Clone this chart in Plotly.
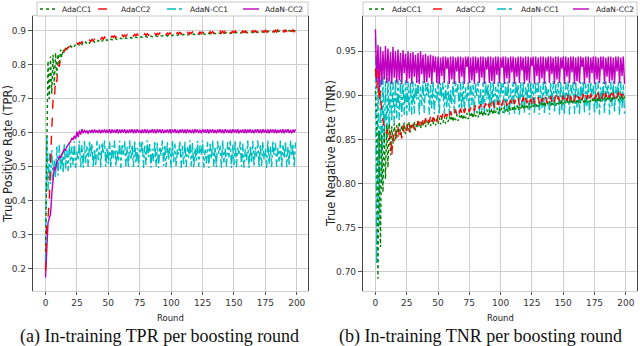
import plotly.graph_objects as go

# boosting rounds
rounds = list(range(200))
series_names = ["AdaCC1", "AdaCC2", "AdaN-CC1", "AdaN-CC2"]

# ---- in-training TPR ----
tpr_adacc1 = [
    0.250, 0.580, 0.812, 0.700, 0.825, 0.715, 0.830, 0.740, 0.836, 0.770,
    0.832, 0.800, 0.845, 0.822, 0.846, 0.835, 0.852, 0.845, 0.853, 0.850,
    0.856, 0.852, 0.858, 0.855, 0.861, 0.857, 0.862, 0.859, 0.864, 0.860,
    0.866, 0.862, 0.867, 0.863, 0.868, 0.864, 0.869, 0.866, 0.870, 0.867,
    0.871, 0.868, 0.872, 0.869, 0.873, 0.870, 0.874, 0.871, 0.875, 0.872,
    0.876, 0.873, 0.876, 0.874, 0.877, 0.874, 0.878, 0.875, 0.878, 0.876,
    0.879, 0.877, 0.879, 0.877, 0.880, 0.878, 0.880, 0.878, 0.881, 0.879,
    0.881, 0.879, 0.882, 0.880, 0.882, 0.880, 0.883, 0.881, 0.883, 0.881,
    0.884, 0.882, 0.884, 0.882, 0.885, 0.883, 0.885, 0.883, 0.886, 0.884,
    0.886, 0.884, 0.886, 0.885, 0.887, 0.885, 0.887, 0.885, 0.888, 0.886,
    0.888, 0.886, 0.888, 0.887, 0.889, 0.887, 0.889, 0.887, 0.889, 0.888,
    0.890, 0.888, 0.890, 0.888, 0.890, 0.889, 0.891, 0.889, 0.891, 0.889,
    0.891, 0.889, 0.892, 0.890, 0.892, 0.890, 0.892, 0.890, 0.893, 0.891,
    0.893, 0.891, 0.893, 0.891, 0.893, 0.892, 0.894, 0.892, 0.894, 0.892,
    0.894, 0.892, 0.894, 0.893, 0.895, 0.893, 0.895, 0.893, 0.895, 0.893,
    0.895, 0.894, 0.896, 0.894, 0.896, 0.894, 0.896, 0.894, 0.896, 0.895,
    0.897, 0.895, 0.897, 0.895, 0.897, 0.895, 0.897, 0.896, 0.898, 0.896,
    0.898, 0.896, 0.898, 0.896, 0.898, 0.897, 0.899, 0.897, 0.899, 0.897,
    0.899, 0.897, 0.899, 0.898, 0.900, 0.898, 0.900, 0.898, 0.900, 0.898,
    0.900, 0.899, 0.901, 0.899, 0.901, 0.899, 0.901, 0.899, 0.901, 0.900,
]
tpr_adacc2 = [
    0.195, 0.320, 0.350, 0.400, 0.520, 0.610, 0.700, 0.695, 0.760, 0.750,
    0.800, 0.795, 0.822, 0.830, 0.838, 0.842, 0.846, 0.850, 0.851, 0.854,
    0.856, 0.859, 0.857, 0.862, 0.860, 0.864, 0.861, 0.866, 0.863, 0.868,
    0.865, 0.869, 0.866, 0.871, 0.868, 0.873, 0.869, 0.875, 0.871, 0.876,
    0.873, 0.878, 0.874, 0.879, 0.875, 0.881, 0.876, 0.882, 0.877, 0.883,
    0.879, 0.884, 0.880, 0.885, 0.881, 0.886, 0.881, 0.887, 0.882, 0.887,
    0.883, 0.888, 0.883, 0.888, 0.884, 0.889, 0.884, 0.889, 0.885, 0.890,
    0.885, 0.890, 0.886, 0.891, 0.886, 0.891, 0.886, 0.891, 0.887, 0.892,
    0.887, 0.892, 0.887, 0.892, 0.888, 0.893, 0.888, 0.893, 0.888, 0.893,
    0.889, 0.894, 0.889, 0.894, 0.889, 0.894, 0.889, 0.894, 0.890, 0.895,
    0.890, 0.895, 0.890, 0.895, 0.890, 0.895, 0.891, 0.896, 0.891, 0.896,
    0.891, 0.896, 0.891, 0.896, 0.891, 0.896, 0.892, 0.897, 0.892, 0.897,
    0.892, 0.897, 0.892, 0.897, 0.892, 0.897, 0.893, 0.898, 0.893, 0.898,
    0.893, 0.898, 0.893, 0.898, 0.893, 0.898, 0.893, 0.898, 0.894, 0.899,
    0.894, 0.899, 0.894, 0.899, 0.894, 0.899, 0.894, 0.899, 0.894, 0.899,
    0.895, 0.900, 0.895, 0.900, 0.895, 0.900, 0.895, 0.900, 0.895, 0.900,
    0.895, 0.900, 0.895, 0.901, 0.896, 0.901, 0.896, 0.901, 0.896, 0.901,
    0.896, 0.901, 0.896, 0.901, 0.896, 0.902, 0.897, 0.902, 0.897, 0.902,
    0.897, 0.902, 0.897, 0.902, 0.897, 0.903, 0.897, 0.903, 0.897, 0.903,
    0.896, 0.904, 0.897, 0.904, 0.896, 0.905, 0.897, 0.904, 0.896, 0.905,
]
tpr_adan_cc1 = [
    0.220, 0.590, 0.430, 0.540, 0.450, 0.550, 0.460, 0.520, 0.470, 0.560,
    0.475, 0.565, 0.490, 0.540, 0.482, 0.570, 0.495, 0.550, 0.488, 0.572,
    0.498, 0.560, 0.505, 0.575, 0.497, 0.545, 0.520, 0.577, 0.499, 0.565,
    0.498, 0.576, 0.512, 0.561, 0.500, 0.578, 0.531, 0.569, 0.499, 0.554,
    0.503, 0.577, 0.520, 0.566, 0.497, 0.572, 0.538, 0.578, 0.501, 0.558,
    0.509, 0.575, 0.498, 0.563, 0.526, 0.578, 0.500, 0.551, 0.515, 0.577,
    0.497, 0.568, 0.535, 0.576, 0.502, 0.559, 0.498, 0.578, 0.524, 0.565,
    0.500, 0.577, 0.511, 0.556, 0.499, 0.574, 0.540, 0.578, 0.497, 0.562,
    0.506, 0.578, 0.529, 0.567, 0.498, 0.553, 0.517, 0.577, 0.501, 0.571,
    0.497, 0.560, 0.533, 0.578, 0.503, 0.566, 0.499, 0.575, 0.521, 0.557,
    0.498, 0.578, 0.514, 0.569, 0.500, 0.552, 0.537, 0.577, 0.497, 0.563,
    0.508, 0.576, 0.499, 0.558, 0.527, 0.578, 0.502, 0.570, 0.497, 0.555,
    0.518, 0.577, 0.500, 0.564, 0.536, 0.578, 0.498, 0.551, 0.510, 0.574,
    0.497, 0.568, 0.523, 0.578, 0.501, 0.559, 0.499, 0.576, 0.539, 0.562,
    0.498, 0.578, 0.513, 0.554, 0.500, 0.573, 0.528, 0.577, 0.497, 0.566,
    0.505, 0.578, 0.499, 0.557, 0.534, 0.575, 0.501, 0.569, 0.498, 0.552,
    0.519, 0.578, 0.497, 0.563, 0.511, 0.576, 0.500, 0.558, 0.530, 0.578,
    0.498, 0.567, 0.503, 0.574, 0.522, 0.553, 0.497, 0.578, 0.508, 0.561,
    0.499, 0.577, 0.535, 0.570, 0.500, 0.556, 0.516, 0.578, 0.497, 0.564,
    0.525, 0.576, 0.499, 0.559, 0.502, 0.578, 0.531, 0.568, 0.498, 0.572,
]
tpr_adan_cc2 = [
    0.175, 0.250, 0.335, 0.350, 0.360, 0.420, 0.470, 0.500, 0.490, 0.515,
    0.520, 0.530, 0.528, 0.540, 0.545, 0.552, 0.550, 0.560, 0.565, 0.570,
    0.575, 0.585, 0.580, 0.592, 0.583, 0.604, 0.588, 0.607, 0.595, 0.611,
    0.599, 0.609, 0.600, 0.607, 0.598, 0.608, 0.601, 0.609, 0.600, 0.610,
    0.601, 0.608, 0.600, 0.610, 0.599, 0.609, 0.601, 0.610, 0.600, 0.609,
    0.600, 0.611, 0.599, 0.610, 0.601, 0.609, 0.600, 0.611, 0.599, 0.610,
    0.600, 0.610, 0.601, 0.611, 0.599, 0.609, 0.600, 0.610, 0.601, 0.611,
    0.599, 0.610, 0.600, 0.611, 0.601, 0.609, 0.599, 0.610, 0.600, 0.611,
    0.600, 0.610, 0.599, 0.609, 0.601, 0.611, 0.600, 0.610, 0.599, 0.611,
    0.601, 0.610, 0.600, 0.611, 0.599, 0.609, 0.601, 0.610, 0.600, 0.611,
    0.599, 0.610, 0.601, 0.611, 0.600, 0.609, 0.599, 0.610, 0.601, 0.611,
    0.600, 0.610, 0.599, 0.611, 0.601, 0.609, 0.600, 0.610, 0.599, 0.611,
    0.601, 0.610, 0.600, 0.609, 0.599, 0.611, 0.601, 0.610, 0.600, 0.611,
    0.599, 0.610, 0.601, 0.611, 0.600, 0.609, 0.599, 0.610, 0.601, 0.611,
    0.600, 0.610, 0.599, 0.611, 0.601, 0.609, 0.600, 0.610, 0.599, 0.611,
    0.601, 0.610, 0.600, 0.611, 0.599, 0.609, 0.601, 0.610, 0.600, 0.611,
    0.599, 0.610, 0.601, 0.611, 0.600, 0.609, 0.599, 0.610, 0.601, 0.611,
    0.600, 0.610, 0.599, 0.611, 0.601, 0.609, 0.600, 0.610, 0.599, 0.611,
    0.601, 0.610, 0.600, 0.611, 0.599, 0.609, 0.601, 0.610, 0.600, 0.611,
    0.599, 0.610, 0.601, 0.611, 0.600, 0.609, 0.599, 0.610, 0.601, 0.611,
]

# ---- in-training TNR ----
tnr_adacc1 = [
    0.905, 0.870, 0.692, 0.860, 0.728, 0.855, 0.790, 0.862, 0.805, 0.866,
    0.818, 0.868, 0.832, 0.865, 0.845, 0.868, 0.850, 0.866, 0.853, 0.870,
    0.855, 0.866, 0.858, 0.869, 0.856, 0.867, 0.860, 0.870, 0.858, 0.868,
    0.862, 0.870, 0.860, 0.869, 0.864, 0.871, 0.862, 0.870, 0.865, 0.872,
    0.864, 0.871, 0.866, 0.873, 0.865, 0.872, 0.867, 0.874, 0.866, 0.873,
    0.868, 0.875, 0.867, 0.874, 0.869, 0.876, 0.868, 0.875, 0.870, 0.876,
    0.871, 0.877, 0.870, 0.876, 0.872, 0.878, 0.871, 0.877, 0.873, 0.879,
    0.872, 0.878, 0.874, 0.880, 0.873, 0.879, 0.875, 0.881, 0.874, 0.880,
    0.876, 0.882, 0.875, 0.881, 0.877, 0.883, 0.876, 0.882, 0.878, 0.884,
    0.877, 0.883, 0.879, 0.885, 0.878, 0.884, 0.880, 0.886, 0.879, 0.885,
    0.881, 0.886, 0.880, 0.887, 0.882, 0.886, 0.881, 0.888, 0.883, 0.887,
    0.882, 0.888, 0.884, 0.889, 0.883, 0.888, 0.885, 0.890, 0.884, 0.889,
    0.886, 0.890, 0.885, 0.891, 0.886, 0.890, 0.887, 0.892, 0.886, 0.891,
    0.887, 0.892, 0.888, 0.891, 0.887, 0.893, 0.888, 0.892, 0.889, 0.893,
    0.888, 0.893, 0.889, 0.894, 0.888, 0.893, 0.890, 0.894, 0.889, 0.895,
    0.890, 0.894, 0.891, 0.895, 0.890, 0.894, 0.891, 0.896, 0.890, 0.895,
    0.891, 0.896, 0.892, 0.895, 0.891, 0.897, 0.892, 0.896, 0.891, 0.897,
    0.892, 0.896, 0.893, 0.897, 0.892, 0.898, 0.893, 0.897, 0.892, 0.898,
    0.893, 0.897, 0.894, 0.898, 0.893, 0.899, 0.894, 0.898, 0.893, 0.899,
    0.894, 0.898, 0.895, 0.899, 0.894, 0.899, 0.895, 0.898, 0.894, 0.899,
]
tnr_adacc2 = [
    0.930, 0.908, 0.928, 0.892, 0.905, 0.880, 0.872, 0.865, 0.868, 0.856,
    0.862, 0.850, 0.858, 0.830, 0.855, 0.848, 0.860, 0.852, 0.864, 0.855,
    0.862, 0.851, 0.866, 0.857, 0.864, 0.860, 0.868, 0.858, 0.866, 0.862,
    0.869, 0.861, 0.868, 0.864, 0.871, 0.863, 0.870, 0.866, 0.872, 0.865,
    0.874, 0.867, 0.873, 0.869, 0.876, 0.868, 0.875, 0.871, 0.877, 0.870,
    0.878, 0.872, 0.877, 0.874, 0.880, 0.873, 0.879, 0.876, 0.881, 0.875,
    0.882, 0.877, 0.881, 0.878, 0.884, 0.877, 0.883, 0.880, 0.885, 0.879,
    0.886, 0.880, 0.885, 0.882, 0.887, 0.881, 0.886, 0.883, 0.888, 0.882,
    0.889, 0.884, 0.888, 0.885, 0.890, 0.884, 0.889, 0.886, 0.891, 0.885,
    0.891, 0.886, 0.892, 0.887, 0.893, 0.886, 0.892, 0.888, 0.894, 0.887,
    0.893, 0.888, 0.895, 0.889, 0.894, 0.888, 0.896, 0.890, 0.895, 0.889,
    0.896, 0.890, 0.895, 0.891, 0.897, 0.889, 0.896, 0.892, 0.898, 0.890,
    0.897, 0.891, 0.898, 0.892, 0.896, 0.890, 0.899, 0.891, 0.897, 0.893,
    0.898, 0.891, 0.899, 0.892, 0.897, 0.893, 0.899, 0.891, 0.898, 0.894,
    0.899, 0.892, 0.898, 0.893, 0.900, 0.892, 0.899, 0.894, 0.898, 0.893,
    0.900, 0.893, 0.899, 0.894, 0.901, 0.892, 0.899, 0.895, 0.900, 0.893,
    0.901, 0.894, 0.899, 0.895, 0.900, 0.893, 0.902, 0.894, 0.900, 0.896,
    0.901, 0.894, 0.902, 0.895, 0.900, 0.896, 0.901, 0.894, 0.903, 0.895,
    0.901, 0.896, 0.902, 0.894, 0.903, 0.895, 0.901, 0.897, 0.902, 0.895,
    0.903, 0.896, 0.901, 0.897, 0.904, 0.895, 0.902, 0.898, 0.903, 0.896,
]
tnr_adan_cc1 = [
    0.965, 0.709, 0.922, 0.752, 0.918, 0.800, 0.921, 0.845, 0.916, 0.850,
    0.920, 0.862, 0.918, 0.870, 0.915, 0.868, 0.919, 0.874, 0.917, 0.872,
    0.918, 0.876, 0.914, 0.878, 0.917, 0.877, 0.916, 0.880, 0.915, 0.878,
    0.916, 0.879, 0.913, 0.895, 0.917, 0.878, 0.910, 0.888, 0.916, 0.880,
    0.914, 0.900, 0.916, 0.878, 0.912, 0.885, 0.916, 0.879, 0.908, 0.893,
    0.916, 0.878, 0.914, 0.897, 0.915, 0.879, 0.911, 0.886, 0.916, 0.878,
    0.906, 0.890, 0.915, 0.879, 0.916, 0.902, 0.913, 0.878, 0.915, 0.884,
    0.916, 0.880, 0.909, 0.894, 0.915, 0.878, 0.916, 0.889, 0.912, 0.879,
    0.915, 0.899, 0.916, 0.878, 0.907, 0.883, 0.915, 0.879, 0.916, 0.896,
    0.913, 0.878, 0.915, 0.887, 0.916, 0.880, 0.910, 0.892, 0.915, 0.878,
    0.916, 0.901, 0.914, 0.879, 0.915, 0.884, 0.916, 0.878, 0.908, 0.890,
    0.915, 0.879, 0.916, 0.897, 0.912, 0.878, 0.915, 0.886, 0.916, 0.880,
    0.909, 0.893, 0.915, 0.878, 0.916, 0.888, 0.913, 0.879, 0.915, 0.903,
    0.916, 0.878, 0.911, 0.885, 0.915, 0.879, 0.916, 0.895, 0.907, 0.878,
    0.915, 0.889, 0.916, 0.880, 0.914, 0.898, 0.915, 0.878, 0.916, 0.883,
    0.910, 0.879, 0.915, 0.891, 0.916, 0.878, 0.912, 0.900, 0.915, 0.879,
    0.916, 0.886, 0.908, 0.878, 0.915, 0.894, 0.916, 0.880, 0.913, 0.887,
    0.915, 0.878, 0.916, 0.899, 0.911, 0.879, 0.915, 0.884, 0.916, 0.878,
    0.909, 0.892, 0.915, 0.879, 0.916, 0.902, 0.913, 0.878, 0.915, 0.888,
    0.916, 0.880, 0.910, 0.896, 0.915, 0.878, 0.916, 0.885, 0.912, 0.879,
]
tnr_adan_cc2 = [
    0.975, 0.915, 0.957, 0.905, 0.955, 0.912, 0.950, 0.918, 0.956, 0.914,
    0.953, 0.916, 0.949, 0.913, 0.955, 0.920, 0.950, 0.914, 0.952, 0.917,
    0.948, 0.913, 0.951, 0.925, 0.947, 0.914, 0.950, 0.919, 0.948, 0.913,
    0.949, 0.921, 0.946, 0.914, 0.948, 0.913, 0.950, 0.924, 0.946, 0.914,
    0.947, 0.915, 0.945, 0.920, 0.946, 0.913, 0.945, 0.926, 0.944, 0.914,
    0.944, 0.913, 0.943, 0.922, 0.944, 0.914, 0.944, 0.930, 0.943, 0.913,
    0.944, 0.918, 0.944, 0.913, 0.943, 0.927, 0.944, 0.914, 0.944, 0.921,
    0.943, 0.913, 0.944, 0.932, 0.944, 0.914, 0.943, 0.917, 0.944, 0.913,
    0.944, 0.925, 0.943, 0.914, 0.944, 0.920, 0.944, 0.913, 0.943, 0.929,
    0.944, 0.914, 0.944, 0.916, 0.943, 0.913, 0.944, 0.923, 0.944, 0.914,
    0.943, 0.931, 0.944, 0.913, 0.944, 0.919, 0.943, 0.914, 0.944, 0.926,
    0.944, 0.913, 0.943, 0.921, 0.944, 0.914, 0.944, 0.928, 0.943, 0.913,
    0.944, 0.917, 0.944, 0.914, 0.943, 0.933, 0.944, 0.913, 0.944, 0.922,
    0.943, 0.914, 0.944, 0.919, 0.944, 0.913, 0.943, 0.927, 0.944, 0.914,
    0.944, 0.924, 0.943, 0.913, 0.944, 0.918, 0.944, 0.914, 0.943, 0.930,
    0.944, 0.913, 0.944, 0.921, 0.943, 0.914, 0.944, 0.926, 0.944, 0.913,
    0.943, 0.916, 0.944, 0.914, 0.944, 0.932, 0.943, 0.913, 0.944, 0.920,
    0.944, 0.914, 0.943, 0.925, 0.944, 0.913, 0.944, 0.918, 0.943, 0.914,
    0.944, 0.929, 0.944, 0.913, 0.943, 0.921, 0.944, 0.914, 0.944, 0.917,
    0.943, 0.913, 0.944, 0.927, 0.944, 0.914, 0.943, 0.922, 0.944, 0.913,
]

W, H = 640, 346
colors = {"AdaCC1": "#008000", "AdaCC2": "#ff0000",
          "AdaN-CC1": "#00bfbf", "AdaN-CC2": "#bf00bf"}
dashes = {"AdaCC1": "dot", "AdaCC2": "dash",
          "AdaN-CC1": "dashdot", "AdaN-CC2": "solid"}


def px(x):
    return x / W


def py(y):
    return 1 - y / H


fig = go.Figure()

panels = [
    ("", {"AdaCC1": tpr_adacc1, "AdaCC2": tpr_adacc2,
          "AdaN-CC1": tpr_adan_cc1, "AdaN-CC2": tpr_adan_cc2}),
    ("2", {"AdaCC1": tnr_adacc1, "AdaCC2": tnr_adacc2,
           "AdaN-CC1": tnr_adan_cc1, "AdaN-CC2": tnr_adan_cc2}),
]
# draw the AdaN lines underneath
draw_order = ["AdaN-CC1", "AdaN-CC2", "AdaCC1", "AdaCC2"]
for suffix, data in panels:
    for name in draw_order:
        fig.add_trace(go.Scatter(
            x=rounds, y=data[name], mode="lines", name=name,
            line=dict(color=colors[name], dash=dashes[name], width=1.4),
            xaxis="x" + suffix, yaxis="y" + suffix, showlegend=False,
        ))

tickfont = dict(family="DejaVu Sans", size=9, color="#333333")
common_x = dict(range=[-9.95, 208.95], tickvals=list(range(0, 201, 25)),
                showgrid=True, gridcolor="#cfcfcf", gridwidth=1.2,
                showline=True, linecolor="#d0d0d0", mirror=True,
                ticks="outside", ticklen=3, tickcolor="#555555",
                tickfont=tickfont, zeroline=False, automargin=False)
common_y = dict(showgrid=True, gridcolor="#cfcfcf", gridwidth=1.2,
                showline=True, linecolor="#444444", linewidth=1.2, mirror=True,
                ticks="outside", ticklen=4, tickcolor="#555555",
                tickfont=tickfont, zeroline=False, automargin=False)

fig.update_layout(
    width=W, height=H,
    margin=dict(l=0, r=0, t=0, b=0, autoexpand=False),
    paper_bgcolor="white", plot_bgcolor="white",
    xaxis=dict(domain=[px(33), px(308)], anchor="y", **common_x),
    yaxis=dict(domain=[py(291), py(16)], anchor="x",
               range=[0.135, 0.944], tickvals=[0.2, 0.3, 0.4, 0.5, 0.6, 0.7, 0.8, 0.9],
               **common_y),
    xaxis2=dict(domain=[px(363), px(637)], anchor="y2", **common_x),
    yaxis2=dict(domain=[py(291), py(16)], anchor="x2",
                range=[0.678, 0.99], tickvals=[0.70, 0.75, 0.80, 0.85, 0.90, 0.95],
                tickformat=".2f", **common_y),
    showlegend=False,
)

# legend boxes above each panel (pixel layout: box, sample starts, text starts)
legend_layouts = [
    ((37, 308), [40, 98, 167, 243], [60, 119, 188, 263]),
    ((363, 637), [369, 433, 497, 573], [390, 454, 519, 594]),
]
leg_font = dict(family="DejaVu Sans", size=7.5, color="#222222")
for (bx0, bx1), samples, texts in legend_layouts:
    fig.add_shape(type="rect", xref="paper", yref="paper",
                  x0=px(bx0), x1=px(bx1), y0=py(16), y1=py(2),
                  line=dict(color="#c8c8c8", width=1), fillcolor="white")
    for name, sx, tx in zip(series_names, samples, texts):
        fig.add_shape(type="line", xref="paper", yref="paper",
                      x0=px(sx), x1=px(sx + 16), y0=py(9), y1=py(9),
                      line=dict(color=colors[name], dash=dashes[name], width=1.4))
        fig.add_annotation(text=name, x=px(tx), y=py(9), xref="paper",
                           yref="paper", xanchor="left", yanchor="middle",
                           showarrow=False, font=leg_font)

ann_font = dict(family="DejaVu Sans", size=11.5, color="#222222")
for label, cx in (("True Positive Rate (TPR)", 8), ("True Negative Rate (TNR)", 331)):
    fig.add_annotation(text=label, x=px(cx), y=py(154), xref="paper",
                       yref="paper", xanchor="center", yanchor="middle",
                       textangle=-90, showarrow=False, font=ann_font)
for cx in (170, 500):
    fig.add_annotation(text="Round", x=px(cx), y=py(318), xref="paper",
                       yref="paper", xanchor="center", yanchor="middle",
                       showarrow=False,
                       font=dict(family="DejaVu Sans", size=8.5, color="#222222"))
cap_font = dict(family="Liberation Serif", size=18, color="#111111")
for label, cx in (("(a) In-training TPR per boosting round", 159),
                  ("(b) In-training TNR per boosting round", 480)):
    fig.add_annotation(text=label, x=px(cx), y=py(336), xref="paper",
                       yref="paper", xanchor="center", yanchor="middle",
                       showarrow=False, font=cap_font)

fig.write_html("out.html", config={"displayModeBar": False},
               post_script="document.body.style.margin='0px';")
